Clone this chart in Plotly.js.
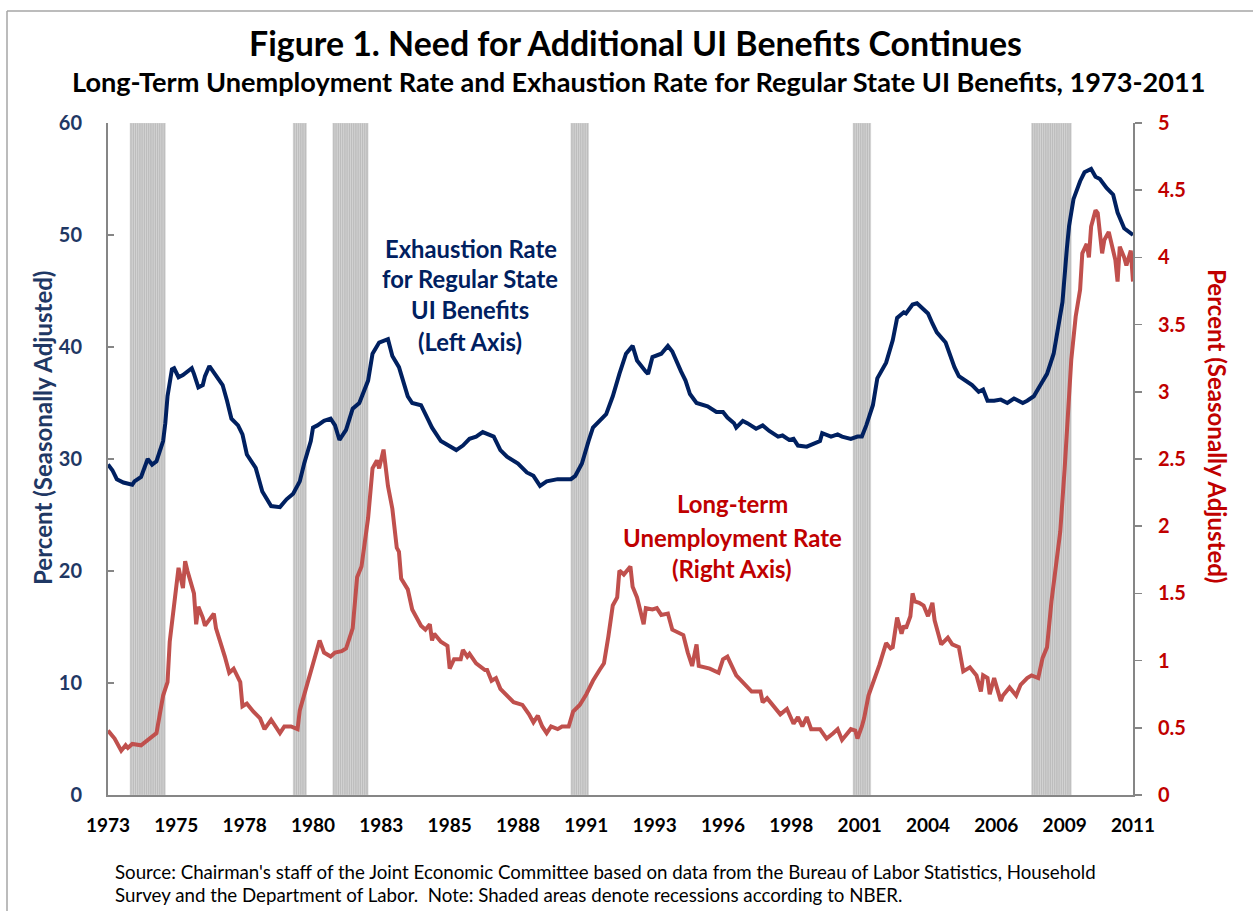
<!DOCTYPE html>
<html>
<head>
<meta charset="utf-8">
<script src="https://cdn.plot.ly/plotly-3.0.1.min.js"></script>
<style>html,body{margin:0;padding:0;background:#fff;}#chart{width:1253px;height:911px;}</style>
</head>
<body>
<div id="chart"></div>
<script>
// ---- Data (months since January 1973) ----
const exhMonth = [0,2,4,7,11,12,15,18,20,22,25,26,27,29,30,32,34,36,38,39,41,43,44,46,49,52,54,56,59,61,63,67,70,74,78,81,84,87,89,92,93,95,98,101,103,105,108,111,114,118,120,123,127,129,132,134,136,138,142,145,147,151,154,158,161,164,167,170,175,178,181,186,190,193,196,199,204,206,210,212,215,218,220,226,229,232,235,238,240,244,245,247,249,251,254,256,260,262,264,267,272,276,279,281,284,285,288,290,294,297,300,304,306,309,311,313,317,320,323,324,328,331,333,337,340,342,344,347,349,353,356,358,361,362,365,367,369,372,374,376,380,382,384,386,390,392,395,397,399,402,405,408,411,415,417,420,423,426,429,431,433,435,436,438,441,443,446,448,450,453,456,458,461,465];
const exhRate = [29.5,29.0,28.2,27.9,27.7,28.0,28.4,30.0,29.5,29.8,31.6,33.2,35.6,38.0,38.1,37.3,37.5,37.8,38.1,37.6,36.4,36.6,37.4,38.3,37.4,36.6,35.2,33.6,33.0,32.2,30.4,29.2,27.1,25.8,25.7,26.4,26.9,28.0,29.6,31.6,32.8,33.0,33.4,33.6,33.0,31.7,32.6,34.5,35.0,37.0,39.4,40.4,40.7,39.2,38.2,37.0,35.6,35.0,34.8,33.6,32.8,31.6,31.3,30.8,31.2,31.8,32.0,32.4,32.0,30.8,30.2,29.6,28.8,28.5,27.6,28.0,28.2,28.2,28.2,28.5,29.6,31.6,32.8,34.0,35.6,37.6,39.4,40.1,38.8,37.8,37.6,39.1,39.3,39.4,40.1,39.6,37.8,37.0,35.8,35.0,34.7,34.2,34.2,33.7,33.2,32.8,33.4,33.2,32.7,33.0,32.5,32.0,32.1,31.7,31.8,31.2,31.1,31.4,31.6,32.3,32.0,32.2,32.0,31.8,32.0,32.0,33.0,34.8,37.2,38.6,40.6,42.6,43.1,43.0,43.8,43.9,43.5,43.0,42.1,41.3,40.4,39.2,38.2,37.4,36.9,36.6,36.0,36.2,35.2,35.2,35.3,35.0,35.4,35.0,35.2,35.6,36.6,37.6,39.4,41.6,44.0,48.8,50.8,53.2,54.8,55.6,55.9,55.2,55.0,54.2,53.6,52.0,50.6,50.0];

const ltuMonth = [0,3,6,8,9,11,15,18,22,25,27,28,30,31,32,34,35,36,39,40,41,43,44,48,49,53,55,57,60,61,63,66,69,71,74,78,80,83,86,87,90,93,96,98,101,103,106,108,111,113,115,118,120,122,123,125,127,129,131,132,133,136,138,142,144,146,147,148,151,154,155,157,160,161,163,164,167,171,172,174,176,178,181,184,188,191,193,195,197,199,201,204,206,209,211,214,217,220,223,225,227,229,231,232,234,235,237,238,240,243,244,247,249,251,254,256,259,261,263,265,267,268,273,277,279,281,285,288,292,296,297,299,305,308,311,313,315,317,319,323,326,329,331,333,337,339,340,342,343,345,347,350,353,355,356,358,360,361,362,364,365,366,368,370,372,374,375,376,378,381,383,386,388,391,394,396,397,399,400,402,405,406,409,412,414,417,419,422,424,426,428,430,432,434,436,437,439,441,442,444,445,446,448,449,451,452,454,456,457,458,459,461,462,464,465];
const ltuRate = [0.48,0.42,0.33,0.37,0.35,0.38,0.37,0.41,0.46,0.74,0.84,1.14,1.40,1.54,1.69,1.54,1.74,1.67,1.50,1.27,1.40,1.32,1.26,1.35,1.24,1.03,0.91,0.94,0.84,0.66,0.68,0.62,0.57,0.49,0.56,0.46,0.51,0.51,0.49,0.63,0.80,0.97,1.15,1.06,1.03,1.06,1.07,1.09,1.24,1.62,1.70,2.06,2.43,2.49,2.43,2.57,2.30,2.13,1.84,1.81,1.61,1.53,1.38,1.26,1.23,1.27,1.15,1.20,1.14,1.11,0.94,1.01,1.01,1.08,1.03,1.05,0.98,0.93,0.93,0.85,0.87,0.79,0.74,0.69,0.67,0.60,0.54,0.59,0.51,0.46,0.51,0.49,0.51,0.51,0.62,0.67,0.75,0.85,0.93,0.98,1.18,1.41,1.47,1.67,1.64,1.66,1.70,1.55,1.47,1.27,1.39,1.38,1.39,1.34,1.35,1.23,1.21,1.19,1.06,0.96,1.12,0.96,0.94,0.91,1.01,1.03,0.89,0.84,0.77,0.77,0.69,0.72,0.60,0.64,0.53,0.58,0.51,0.58,0.49,0.49,0.42,0.46,0.49,0.41,0.49,0.48,0.42,0.51,0.57,0.74,0.83,0.97,1.13,1.09,1.10,1.32,1.20,1.26,1.24,1.33,1.50,1.44,1.43,1.41,1.33,1.43,1.30,1.24,1.12,1.17,1.12,1.10,0.92,0.95,0.89,0.77,0.89,0.87,0.75,0.87,0.70,0.74,0.80,0.74,0.82,0.87,0.89,0.87,1.02,1.10,1.44,1.70,1.96,2.43,2.97,3.24,3.56,3.76,4.03,4.10,4.00,4.23,4.35,4.33,4.03,4.13,4.19,4.03,3.98,3.82,4.08,4.00,3.94,4.05,3.82];

// NBER recessions (peak month, trough month)
const recStart = ['1973-11','1980-01','1981-07','1990-07','2001-03','2007-12'];
const recEnd   = ['1975-03','1980-07','1982-11','1991-03','2001-11','2009-06'];

// x-axis category labels (every 31 months from Jan 1973 to Oct 2011)
const tickMonth = [0,31,62,93,124,155,186,217,248,279,310,341,372,403,434,465];
const tickLabel = ['1973','1975','1978','1980','1983','1985','1988','1991','1993','1996','1998','2001','2004','2006','2009','2011'];

const leftTicks = [0,10,20,30,40,50,60];
const rightTicks = [0,0.5,1,1.5,2,2.5,3,3.5,4,4.5,5];

// ---- helpers ----
const toYear = m => 1973 + m/12;
const monthIdx = s => { const [y,mo] = s.split('-').map(Number); return (y-1973)*12 + (mo-1); };

const recX = [], recW = [], recY = [];
for (let i = 0; i < recStart.length; i++) {
  for (let m = monthIdx(recStart[i]); m < monthIdx(recEnd[i]); m++) {
    recX.push(toYear(m + 0.5)); recW.push(1/12); recY.push(60);
  }
}

// plot area in pixels
const L = 108, R = 1133, T = 123, B = 795;
const xp = px => (px - L) / (R - L);
const yp = py => (B - py) / (B - T);

const cv = document.createElement('canvas').getContext('2d');
function fit(text, fam, weight, target) {
  cv.font = weight + ' 100px ' + fam;
  return 100 * target / cv.measureText(text).width;
}
const FAM = 'Lato, "Open Sans", sans-serif';
const NAVY = '#002060', NAVYTXT = '#1f3864', RED = '#c0504d', REDTXT = '#c00000';

const titleTxt = 'Figure 1. Need for Additional UI Benefits Continues';
const subTxt = 'Long-Term Unemployment Rate and Exhaustion Rate for Regular State UI Benefits, 1973-2011';
const src1 = "Source: Chairman's staff of the Joint Economic Committee based on data from the Bureau of Labor Statistics, Household";
const src2 = 'Survey and the Department of Labor.  Note: Shaded areas denote recessions according to NBER.';
const axTitle = 'Percent (Seasonally Adjusted)';

const sTitle = fit(titleTxt, 'Lato', 'bold', 775);
const sSub = fit(subTxt, 'Lato', 'bold', 1135);
const sSrc = fit(src1, 'Lato', 'normal', 983);
const sBlue = fit('Exhaustion Rate', 'Lato', 'bold', 172);
const sRed = fit('Unemployment Rate', 'Lato', 'bold', 219);
const sAx = fit(axTitle, 'Lato', 'bold', 316);

function ann(text, px, py, size, color, weight, extra) {
  return Object.assign({
    text: text, xref: 'paper', yref: 'paper', x: xp(px), y: yp(py),
    xanchor: 'center', yanchor: 'middle', showarrow: false,
    font: {family: FAM, size: size, color: color, weight: weight}
  }, extra || {});
}

const annotations = [
  ann(titleTxt, 635.5, 43, sTitle, '#000', 'bold'),
  ann(subTxt, 639, 81, sSub, '#000', 'bold'),
  ann('Exhaustion Rate', 471, 249, sBlue, NAVY, 'bold'),
  ann('for Regular State', 470, 279, sBlue, NAVY, 'bold'),
  ann('UI Benefits', 470, 310, sBlue, NAVY, 'bold'),
  ann('(Left Axis)', 470, 342, sBlue, NAVY, 'bold'),
  ann('Long-term', 732, 503, sRed, REDTXT, 'bold'),
  ann('Unemployment Rate', 732, 537, sRed, REDTXT, 'bold'),
  ann('(Right Axis)', 732, 568, sRed, REDTXT, 'bold'),
  ann(axTitle, 42, 428, sAx, NAVYTXT, 'bold', {textangle: -90}),
  ann(axTitle, 1217, 426, sAx, REDTXT, 'bold', {textangle: 90}),
  ann(src1, 113, 872, sSrc, '#000', 'normal', {xanchor: 'left'}),
  ann(src2, 113, 895, sSrc, '#000', 'normal', {xanchor: 'left'})
];

const traces = [
  {type: 'bar', x: recX, y: recY, width: recW, yaxis: 'y', hoverinfo: 'skip',
   marker: {color: '#bdbdbd', line: {color: '#d9d9d9', width: 0.5}}, showlegend: false},
  {type: 'scatter', mode: 'lines', x: exhMonth.map(toYear), y: exhRate, yaxis: 'y',
   line: {color: NAVY, width: 4}, showlegend: false, hoverinfo: 'skip'},
  {type: 'scatter', mode: 'lines', x: ltuMonth.map(toYear), y: ltuRate, yaxis: 'y2',
   line: {color: RED, width: 4}, showlegend: false, hoverinfo: 'skip'}
];

const layout = {
  width: 1253, height: 911,
  margin: {l: L, r: 1253 - R, t: T, b: 911 - B, pad: 0},
  paper_bgcolor: '#fff', plot_bgcolor: '#fff',
  font: {family: FAM},
  showlegend: false, bargap: 0,
  xaxis: {
    type: 'linear', range: [toYear(0), toYear(465)],
    tickmode: 'array', tickvals: tickMonth.map(toYear), ticktext: tickLabel,
    ticks: '', showgrid: false, zeroline: false,
    showline: true, linecolor: '#868686', linewidth: 2,
    ticklabelstandoff: 12,
    tickfont: {family: FAM, size: 19, color: '#000', weight: 'bold'}
  },
  yaxis: {
    range: [0, 60], tickmode: 'array', tickvals: leftTicks,
    ticks: 'inside', ticklen: 6, tickwidth: 1.5, tickcolor: '#868686',
    showgrid: false, zeroline: false,
    showline: true, linecolor: '#868686', linewidth: 2,
    ticklabelstandoff: 20,
    tickfont: {family: FAM, size: 20, color: NAVYTXT, weight: 'bold'}
  },
  yaxis2: {
    overlaying: 'y', side: 'right', range: [0, 5],
    tickmode: 'array', tickvals: rightTicks,
    ticks: 'outside', ticklen: 7, tickwidth: 1.5, tickcolor: '#868686',
    showgrid: false, zeroline: false,
    showline: true, linecolor: '#868686', linewidth: 2,
    ticklabelstandoff: 12,
    tickfont: {family: FAM, size: 20, color: REDTXT, weight: 'bold'}
  },
  annotations: annotations,
  shapes: [
    {type: 'line', xref: 'paper', yref: 'paper', x0: xp(7), x1: xp(7), y0: yp(11), y1: yp(911),
     line: {color: '#a6a6a6', width: 1.5}},
    {type: 'line', xref: 'paper', yref: 'paper', x0: xp(7), x1: xp(1253), y0: yp(11), y1: yp(11),
     line: {color: '#a6a6a6', width: 1.5}}
  ]
};

Plotly.newPlot('chart', traces, layout, {staticPlot: true, displayModeBar: false});
</script>
</body>
</html>
